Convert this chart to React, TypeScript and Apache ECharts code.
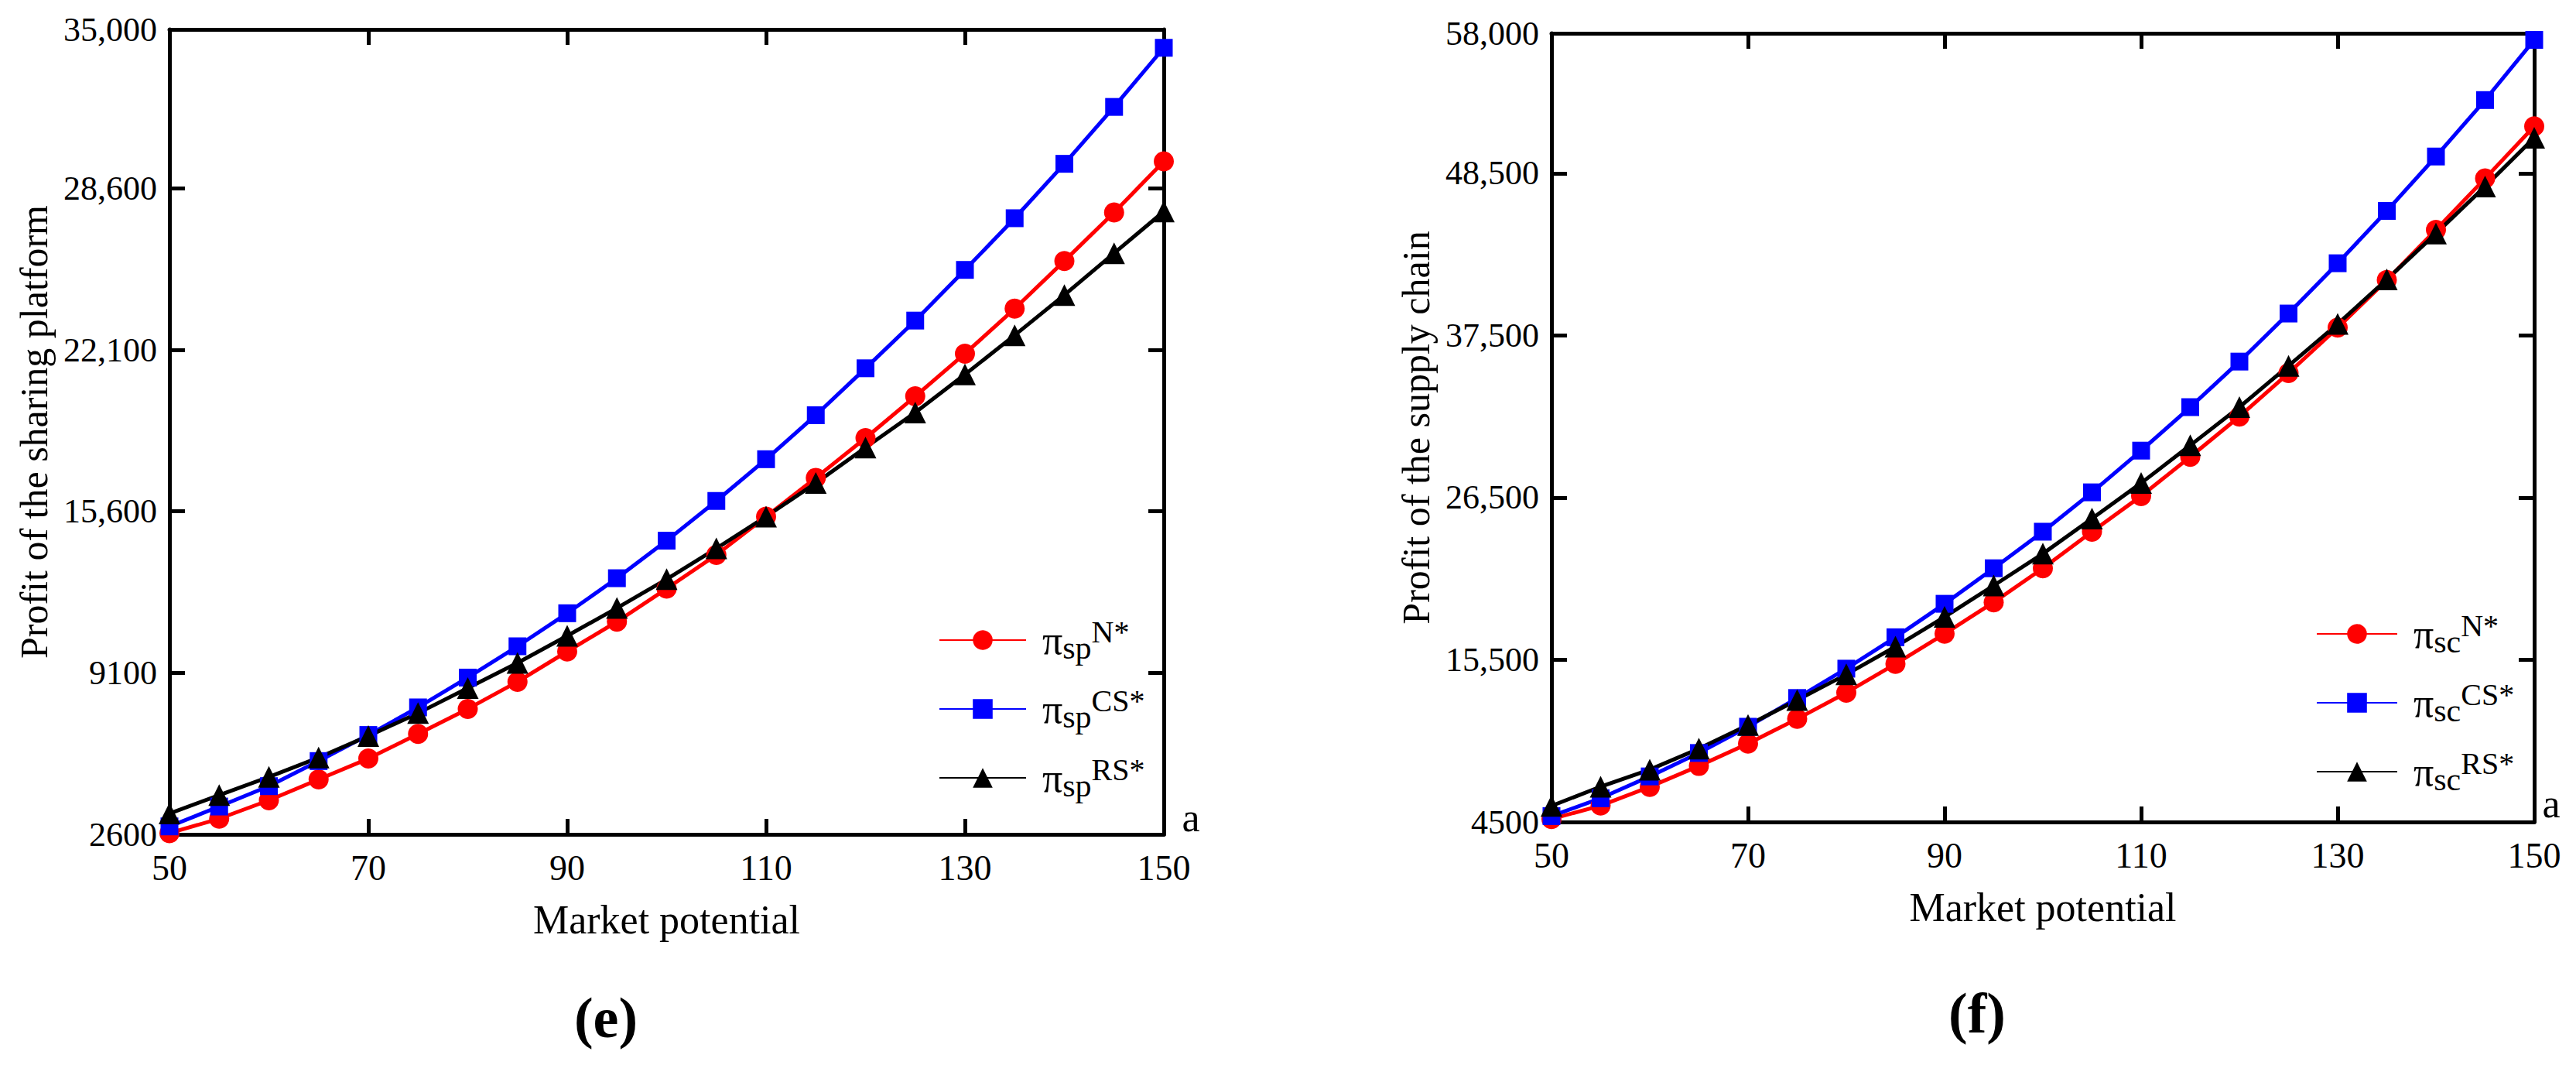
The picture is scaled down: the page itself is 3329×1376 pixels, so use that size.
import { useEffect, useRef } from 'react'
import * as echarts from 'echarts'

// market potential a
const MARKET = [50, 55, 60, 65, 70, 75, 80, 85, 90, 95, 100, 105, 110, 115, 120, 125, 130, 135, 140, 145, 150]
const X_TICKS = [50, 70, 90, 110, 130, 150]

// (e) profit of the sharing platform
const SP_TICKS = [2600, 9100, 15600, 22100, 28600, 35000]
const SP_N = [2650, 3230, 3970, 4810, 5650, 6640, 7650, 8740, 9960, 11160, 12490, 13850, 15390, 16950, 18550, 20230, 21950, 23760, 25680, 27630, 29690]
const SP_CS = [2920, 3720, 4540, 5550, 6600, 7710, 8910, 10170, 11500, 12910, 14420, 16020, 17700, 19470, 21360, 23280, 25320, 27400, 29590, 31880, 34260]
const SP_RS = [3440, 4180, 4910, 5690, 6560, 7480, 8490, 9500, 10590, 11710, 12870, 14110, 15390, 16740, 18170, 19580, 21110, 22690, 24310, 25990, 27670]

// (f) profit of the supply chain
const SC_TICKS = [4500, 15500, 26500, 37500, 48500, 58000]
const SC_N = [4700, 5610, 6880, 8300, 9820, 11490, 13270, 15220, 17270, 19400, 21710, 24190, 26610, 29270, 32000, 34950, 38030, 41260, 44670, 48150, 51690]
const SC_CS = [4900, 6110, 7590, 9180, 10960, 12910, 14900, 17030, 19300, 21710, 24190, 26860, 29690, 32640, 35730, 38990, 42400, 45950, 49640, 53470, 57550]
const SC_RS = [5590, 6890, 8050, 9470, 11070, 12770, 14510, 16390, 18410, 20540, 22700, 25080, 27490, 30050, 32640, 35440, 38280, 41300, 44420, 47610, 50910]

const SERIF = "'Liberation Serif', 'Times New Roman', serif"
const AXIS_LINE = { color: '#000', width: 5 }

const LEGEND_TEXT: Record<string, string> = {
  spN: '{g| }{pi|π}{sub|sp}{sup|N*}',
  spCS: '{g| }{pi|π}{sub|sp}{sup|CS*}',
  spRS: '{g| }{pi|π}{sub|sp}{sup|RS*}',
  scN: '{g| }{pi|π}{sub|sc}{sup|N*}',
  scCS: '{g| }{pi|π}{sub|sc}{sup|CS*}',
  scRS: '{g| }{pi|π}{sub|sc}{sup|RS*}',
}

const fmtY = (v: number) => (v >= 10000 ? v.toLocaleString('en-US') : String(v))

function xAxes(gridIndex: number) {
  const tick = { show: true, inside: true, length: 20, lineStyle: AXIS_LINE, customValues: X_TICKS.slice(1, -1) }
  return [
    {
      type: 'value', gridIndex, min: 50, max: 150, position: 'bottom',
      name: 'Market potential', nameLocation: 'middle', nameGap: 84,
      nameTextStyle: { fontFamily: SERIF, fontSize: 52, color: '#000' },
      axisLine: { show: true, onZero: false, lineStyle: AXIS_LINE },
      axisTick: tick,
      axisLabel: { customValues: X_TICKS, margin: 20, fontSize: 46, fontFamily: SERIF, color: '#000' },
      splitLine: { show: false },
    },
    {
      type: 'value', gridIndex, min: 50, max: 150, position: 'top',
      axisLine: { show: true, onZero: false, lineStyle: AXIS_LINE },
      axisTick: tick,
      axisLabel: { show: false },
      splitLine: { show: false },
    },
  ]
}

function yAxes(gridIndex: number, ticks: number[], title: string) {
  const min = ticks[0]
  const max = ticks[ticks.length - 1]
  const tick = { show: true, inside: true, length: 20, lineStyle: AXIS_LINE, customValues: ticks.slice(1, -1) }
  return [
    {
      type: 'value', gridIndex, min, max, position: 'left',
      name: title, nameLocation: 'middle', nameGap: 150,
      nameTextStyle: { fontFamily: SERIF, fontSize: 50, color: '#000' },
      axisLine: { show: true, onZero: false, lineStyle: AXIS_LINE },
      axisTick: tick,
      axisLabel: { customValues: ticks, formatter: fmtY, margin: 16, fontSize: 44, fontFamily: SERIF, color: '#000' },
      splitLine: { show: false },
    },
    {
      type: 'value', gridIndex, min, max, position: 'right',
      axisLine: { show: true, onZero: false, lineStyle: AXIS_LINE },
      axisTick: tick,
      axisLabel: { show: false },
      splitLine: { show: false },
    },
  ]
}

function lineSeries(name: string, values: number[], color: string, symbol: string, size: number, axis: number) {
  return {
    name,
    type: 'line',
    xAxisIndex: axis,
    yAxisIndex: axis,
    data: MARKET.map((a, i) => [a, values[i]]),
    symbol,
    symbolSize: size,
    lineStyle: { color, width: 5 },
    itemStyle: { color },
  }
}

function legendFor(names: string[], left: number, top: number, itemWidth: number) {
  return {
    data: names,
    orient: 'vertical',
    left,
    top,
    padding: 0,
    itemWidth,
    itemHeight: 32,
    itemGap: 27,
    selectedMode: false,
    formatter: (n: string) => LEGEND_TEXT[n],
    textStyle: {
      color: '#000',
      rich: {
        g: { width: 16 },
        pi: { fontSize: 52, lineHeight: 62, fontFamily: SERIF, color: '#000' },
        sub: { fontSize: 42, lineHeight: 26, verticalAlign: 'bottom', fontFamily: SERIF, color: '#000' },
        sup: { fontSize: 40, lineHeight: 34, verticalAlign: 'top', fontFamily: SERIF, color: '#000' },
      },
    },
  }
}

export default function App() {
  const chartRef = useRef<HTMLDivElement>(null)

  useEffect(() => {
    if (!chartRef.current) return
    document.body.style.margin = '0'

    const chart = echarts.init(chartRef.current, undefined, { renderer: 'svg' })

    const option: any = {
      animation: false,
      backgroundColor: '#fff',
      textStyle: { fontFamily: SERIF },
      grid: [
        { left: 219, top: 38, width: 1285, height: 1040 },
        { left: 2005, top: 43, width: 1270, height: 1019 },
      ],
      xAxis: [...xAxes(0), ...xAxes(1)],
      yAxis: [
        ...yAxes(0, SP_TICKS, 'Profit of the sharing platform'),
        ...yAxes(1, SC_TICKS, 'Profit of the supply chain'),
      ],
      legend: [
        legendFor(['spN', 'spCS', 'spRS'], 1213, 796, 112),
        legendFor(['scN', 'scCS', 'scRS'], 2993, 788, 104),
      ],
      graphic: [
        { type: 'text', x: 1539, y: 1056, style: { text: 'a', fontSize: 52, fontFamily: SERIF, fill: '#000', align: 'center', verticalAlign: 'middle' } },
        { type: 'text', x: 3297, y: 1038, style: { text: 'a', fontSize: 52, fontFamily: SERIF, fill: '#000', align: 'center', verticalAlign: 'middle' } },
        { type: 'text', x: 783, y: 1315, style: { text: '(e)', fontSize: 74, fontWeight: 'bold', fontFamily: SERIF, fill: '#000', align: 'center', verticalAlign: 'middle' } },
        { type: 'text', x: 2555, y: 1309, style: { text: '(f)', fontSize: 74, fontWeight: 'bold', fontFamily: SERIF, fill: '#000', align: 'center', verticalAlign: 'middle' } },
      ],
      series: [
        lineSeries('spN', SP_N, '#ff0000', 'circle', 26, 0),
        lineSeries('spCS', SP_CS, '#0000ff', 'rect', 23, 0),
        lineSeries('spRS', SP_RS, '#000000', 'triangle', 28, 0),
        lineSeries('scN', SC_N, '#ff0000', 'circle', 26, 2),
        lineSeries('scCS', SC_CS, '#0000ff', 'rect', 23, 2),
        lineSeries('scRS', SC_RS, '#000000', 'triangle', 28, 2),
      ],
    }

    chart.setOption(option)

    const handleResize = () => chart.resize()
    window.addEventListener('resize', handleResize)

    return () => {
      window.removeEventListener('resize', handleResize)
      chart.dispose()
    }
  }, [])

  return <div ref={chartRef} style={{ width: '3329px', height: '1376px' }} />
}
